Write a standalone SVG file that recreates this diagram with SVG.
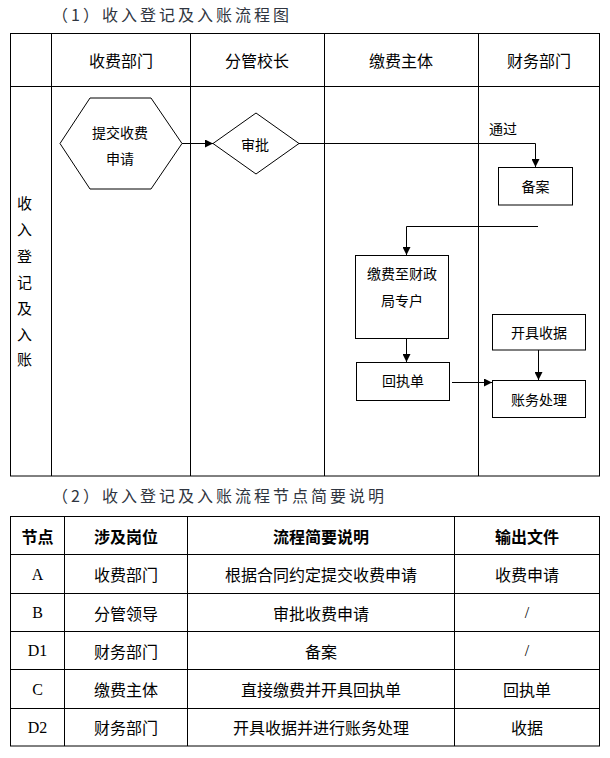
<svg xmlns="http://www.w3.org/2000/svg" width="610" height="758" viewBox="0 0 610 758">
<defs>
<marker id="arr" viewBox="0 0 10 10" refX="10" refY="5" markerWidth="8" markerHeight="8" markerUnits="userSpaceOnUse" orient="auto">
<path d="M0,0 L10,5 L0,10 Z" fill="#000"/>
</marker>
<style>
.t{font-family:"Noto Sans CJK SC","Noto Sans",sans-serif;fill:#000;text-anchor:middle;dominant-baseline:central}
.h{font-size:16px}
.n{font-size:14px}
.b{font-size:16px;font-weight:bold}
.r{font-size:16px}
.lat{font-family:"Liberation Serif","Noto Sans CJK SC",serif;font-size:16px;fill:#000;text-anchor:middle;dominant-baseline:central}
.title{font-family:"Noto Sans CJK SC",sans-serif;font-size:16px;fill:#2f3540;letter-spacing:3px;dominant-baseline:central}
.grid{fill:none;stroke:#000;stroke-width:1}
.shape{fill:#fff;stroke:#000;stroke-width:1}
.c{fill:none;stroke:#000;stroke-width:1}
</style>
</defs>
<rect width="610" height="758" fill="#fff"/>

<text class="title" x="52" y="13.5">（1）收入登记及入账流程图</text>

<g id="swimlane">
<rect class="grid" x="10.5" y="33.5" width="589" height="442.5"/>
<line class="grid" x1="10.5" y1="86.5" x2="599.5" y2="86.5"/>
<line class="grid" x1="51.5" y1="33.5" x2="51.5" y2="476"/>
<line class="grid" x1="190.5" y1="33.5" x2="190.5" y2="476"/>
<line class="grid" x1="324.5" y1="33.5" x2="324.5" y2="476"/>
<line class="grid" x1="478.5" y1="33.5" x2="478.5" y2="476"/>
<text class="t h" x="121" y="60">收费部门</text>
<text class="t h" x="257" y="60">分管校长</text>
<text class="t h" x="401" y="60">缴费主体</text>
<text class="t h" x="539" y="60">财务部门</text>
<g class="t" style="font-size:15px">
<text x="24.5" y="202">收</text>
<text x="24.5" y="228">入</text>
<text x="24.5" y="255">登</text>
<text x="24.5" y="281">记</text>
<text x="24.5" y="307">及</text>
<text x="24.5" y="333">入</text>
<text x="24.5" y="358">账</text>
</g>
</g>

<g id="connectors">
<line class="c" x1="182" y1="143.5" x2="213" y2="143.5" marker-end="url(#arr)"/>
<polyline class="c" points="299,143.5 535.5,143.5 535.5,167" marker-end="url(#arr)"/>
<text class="t n" x="503" y="128">通过</text>
<polyline class="c" points="538,226.5 406.5,226.5 406.5,255" marker-end="url(#arr)"/>
<line class="c" x1="406.5" y1="338" x2="406.5" y2="362" marker-end="url(#arr)"/>
<line class="c" x1="452" y1="382.5" x2="492" y2="382.5" marker-end="url(#arr)"/>
<line class="c" x1="538.5" y1="350" x2="538.5" y2="380" marker-end="url(#arr)"/>
</g>

<g id="node-submit">
<polygon class="shape" points="60,143.5 90,98 151,98 182,143.5 151,189 90,189"/>
<text class="t n" x="120" y="132">提交收费</text>
<text class="t n" x="120" y="158">申请</text>
</g>

<g id="node-approve">
<polygon class="shape" points="213,143.5 256,113 299,143.5 256,174"/>
<text class="t n" x="255" y="144">审批</text>
</g>

<g id="node-record">
<rect class="shape" x="498.5" y="167.5" width="74" height="37.5"/>
<text class="t n" x="535.5" y="186">备案</text>
</g>

<g id="node-pay">
<rect class="shape" x="355.5" y="255.5" width="93" height="83"/>
<text class="t n" x="402" y="273">缴费至财政</text>
<text class="t n" x="402" y="300">局专户</text>
</g>

<g id="node-receipt">
<rect class="shape" x="356.5" y="362.5" width="93" height="38"/>
<text class="t n" x="403" y="380">回执单</text>
</g>

<g id="node-invoice">
<rect class="shape" x="492.5" y="314.5" width="93" height="35.5"/>
<text class="t n" x="539" y="332">开具收据</text>
</g>

<g id="node-account">
<rect class="shape" x="492.5" y="380.5" width="93" height="37"/>
<text class="t n" x="539" y="399">账务处理</text>
</g>

<text class="title" x="52" y="495">（2）收入登记及入账流程节点简要说明</text>

<g id="table">
<rect class="grid" x="10.5" y="516.5" width="589" height="229.5"/>
<line class="grid" x1="10.5" y1="554.5" x2="599.5" y2="554.5"/>
<line class="grid" x1="10.5" y1="593.5" x2="599.5" y2="593.5"/>
<line class="grid" x1="10.5" y1="631.5" x2="599.5" y2="631.5"/>
<line class="grid" x1="10.5" y1="669.5" x2="599.5" y2="669.5"/>
<line class="grid" x1="10.5" y1="708.5" x2="599.5" y2="708.5"/>
<line class="grid" x1="64.5" y1="516.5" x2="64.5" y2="746"/>
<line class="grid" x1="187.5" y1="516.5" x2="187.5" y2="746"/>
<line class="grid" x1="454.5" y1="516.5" x2="454.5" y2="746"/>

<text class="t b" x="37.5" y="535.5">节点</text>
<text class="t b" x="126" y="535.5">涉及岗位</text>
<text class="t b" x="321" y="535.5">流程简要说明</text>
<text class="t b" x="527" y="535.5">输出文件</text>

<text class="lat" x="37.5" y="574">A</text>
<text class="t r" x="126" y="574">收费部门</text>
<text class="t r" x="321" y="574">根据合同约定提交收费申请</text>
<text class="t r" x="527" y="574">收费申请</text>

<text class="lat" x="37.5" y="612.5">B</text>
<text class="t r" x="126" y="612.5">分管领导</text>
<text class="t r" x="321" y="612.5">审批收费申请</text>
<text class="lat" x="527" y="612.5">/</text>

<text class="lat" x="37.5" y="650.5">D1</text>
<text class="t r" x="126" y="650.5">财务部门</text>
<text class="t r" x="321" y="650.5">备案</text>
<text class="lat" x="527" y="650.5">/</text>

<text class="lat" x="37.5" y="689">C</text>
<text class="t r" x="126" y="689">缴费主体</text>
<text class="t r" x="321" y="689">直接缴费并开具回执单</text>
<text class="t r" x="527" y="689">回执单</text>

<text class="lat" x="37.5" y="727">D2</text>
<text class="t r" x="126" y="727">财务部门</text>
<text class="t r" x="321" y="727">开具收据并进行账务处理</text>
<text class="t r" x="527" y="727">收据</text>
</g>
</svg>
